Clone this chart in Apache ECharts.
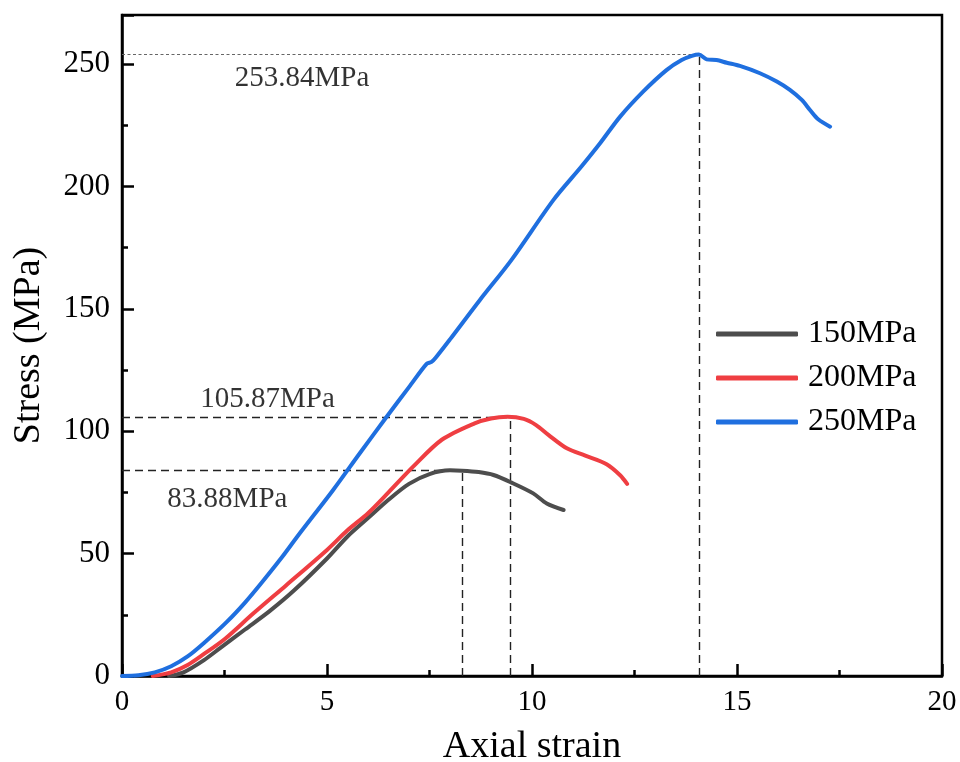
<!DOCTYPE html>
<html>
<head>
<meta charset="utf-8">
<script src="https://cdn.jsdelivr.net/npm/echarts@6/dist/echarts.min.js"></script>
<style>html,body{margin:0;padding:0;background:#fff}#c{width:960px;height:762px}</style>
</head>
<body>
<div id="c"></div>
<script>
// ---- data ----
const seriesNames = ['150MPa', '200MPa', '250MPa'];

const strain150 = [1.15, 1.5, 2.0, 2.4, 3.0, 3.6, 4.2, 5.0, 5.5, 6.0, 6.5, 7.0, 7.5, 8.0, 8.29, 8.7, 9.06, 9.5, 10.03, 10.36, 10.77];
const stress150 = [0, 1.5, 6.5, 11.5, 19, 26.5, 35, 48, 57, 64.5, 72, 78.5, 82.5, 84, 83.88, 83.3, 82.1, 79, 74.6, 70.5, 67.8];

const strain200 = [0.75, 1.2, 1.6, 2.0, 2.5, 3.2, 4.0, 5.0, 5.5, 6.0, 6.5, 7.1, 7.8, 8.6, 9.0, 9.4, 9.8, 10.1, 10.4, 10.85, 11.3, 11.82, 12.15, 12.32];
const stress200 = [0, 1.5, 4.5, 9, 15, 25.5, 37, 51.5, 59.5, 66.5, 75, 85.5, 96.5, 103.2, 105.2, 105.87, 105, 102.5, 98.5, 93, 90, 86.5, 82, 78.5];

const strain250 = [0, 0.4, 0.8, 1.2, 1.6, 2.0, 2.55, 3.0, 3.4, 3.9, 4.3, 5.15, 5.8, 6.46, 7.0, 7.43, 7.55, 7.65, 8.0, 8.73, 9.5, 10.52, 11.2, 11.66, 12.15, 12.71, 13.28, 13.65, 13.9, 14.07, 14.26, 14.5, 14.75, 15.07, 15.56, 15.97, 16.29, 16.58, 16.78, 16.98, 17.27];
const stress250 = [0, 0.3, 1.5, 4, 8, 13.5, 22, 30, 38, 48.5, 57.5, 76, 91, 106, 118, 127.5, 128.3, 130, 137.5, 153.6, 170, 194.4, 208, 217.6, 228.5, 238.7, 247.5, 251.6, 253.3, 253.84, 251.9, 251.6, 250.5, 249.2, 246.2, 242.8, 239.4, 235.3, 231.2, 227.4, 224.4];

const peakStrain = [8.29, 9.46, 14.07];
const peakStress = [83.88, 105.87, 253.84];
const peakText = ['83.88MPa', '105.87MPa', '253.84MPa'];

const xTicks = [0, 5, 10, 15, 20];
const yTicks = [0, 50, 100, 150, 200, 250];

// ---- chart ----
const FONT = '"Liberation Serif", "Times New Roman", serif';
const colors = ['#4d4d4d', '#ef3e42', '#1f6fdf'];
const zip = (xs, ys) => xs.map((x, i) => [x, ys[i]]);
const strains = [strain150, strain200, strain250];
const stresses = [stress150, stress200, stress250];

// annotation anchor points (data coords) for the peak texts
const annotAt = [[2.57, 72], [3.55, 113], [4.39, 244]];

const guideStyleH = [
  { color: '#222', width: 1.3, type: [8, 5] },
  { color: '#222', width: 1.3, type: [8, 5] },
  { color: '#666', width: 1, type: [3, 2.5] }
];
const guideStyleV = { color: '#222', width: 1.4, type: [8, 5] };

const series = seriesNames.map((name, i) => ({
  name: name,
  type: 'line',
  data: zip(strains[i], stresses[i]),
  showSymbol: false,
  smooth: 0.3,
  lineStyle: { width: 4, color: colors[i], cap: 'round' },
  itemStyle: { color: colors[i] },
  z: 3,
  markLine: {
    silent: true,
    symbol: 'none',
    label: { show: false },
    z: 2,
    data: [
      [{ coord: [0, peakStress[i]], lineStyle: guideStyleH[i] }, { coord: [peakStrain[i], peakStress[i]] }],
      [{ coord: [peakStrain[i], 0], lineStyle: guideStyleV }, { coord: [peakStrain[i], peakStress[i]] }]
    ]
  }
}));

series.push({
  name: 'annot',
  type: 'scatter',
  symbolSize: 0,
  silent: true,
  data: annotAt.map((p, i) => ({ value: [p[0], p[1]], label: { formatter: peakText[i] } })),
  label: {
    show: true,
    position: 'inside',
    color: '#000',
    fontFamily: FONT,
    fontSize: 29
  }
});

const tickStyle = { color: '#000', width: 2.5 };

const chart = echarts.init(document.getElementById('c'), null, { renderer: 'canvas' });
chart.setOption({
  animation: false,
  backgroundColor: '#fff',
  grid: { left: 122, right: 18, top: 15, bottom: 86, containLabel: false, outerBoundsMode: 'none',
    show: true, borderColor: '#000', borderWidth: 2.5, backgroundColor: 'transparent' },
  legend: {
    data: seriesNames,
    orient: 'vertical',
    left: 711,
    top: 313,
    itemWidth: 82,
    itemHeight: 5,
    itemGap: 12,
    icon: 'roundRect',
    textStyle: { fontFamily: FONT, fontSize: 32, color: '#000', padding: [0, 0, 0, 5] }
  },
  xAxis: {
    type: 'value',
    min: 0, max: 20, interval: 5,
    name: 'Axial strain',
    nameLocation: 'middle',
    nameGap: 52,
    nameTextStyle: { fontFamily: FONT, fontSize: 38, color: '#000' },
    axisLine: { show: true, onZero: false, lineStyle: { color: '#000', width: 2.5 } },
    axisTick: { show: true, inside: true, length: 12, lineStyle: tickStyle },
    minorTick: { show: true, splitNumber: 2, length: 6, lineStyle: tickStyle },
    splitLine: { show: false },
    axisLabel: { fontFamily: FONT, fontSize: 29, color: '#000', margin: 12,
      formatter: v => xTicks.includes(v) ? String(v) : '' }
  },
  yAxis: {
    type: 'value',
    min: 0, max: 270, interval: 50,
    name: 'Stress (MPa)',
    nameLocation: 'middle',
    nameGap: 74,
    nameTextStyle: { fontFamily: FONT, fontSize: 38, color: '#000' },
    axisLine: { show: true, onZero: false, lineStyle: { color: '#000', width: 2.5 } },
    axisTick: { show: true, inside: true, length: 12, lineStyle: tickStyle },
    minorTick: { show: true, splitNumber: 2, length: 6, lineStyle: tickStyle },
    splitLine: { show: false },
    axisLabel: { fontFamily: FONT, fontSize: 31, color: '#000', margin: 12,
      showMaxLabel: false,
      formatter: v => yTicks.includes(v) ? String(v) : '' }
  },
  series: series
});
</script>
</body>
</html>
